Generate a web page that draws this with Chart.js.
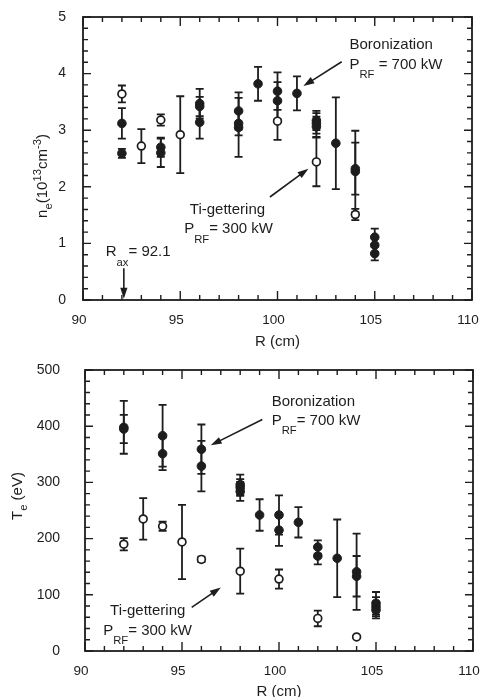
<!DOCTYPE html>
<html>
<head>
<meta charset="utf-8">
<script src="https://cdn.jsdelivr.net/npm/chart.js@4.4.1/dist/chart.umd.min.js"></script>
<style>
  html, body { margin: 0; padding: 0; background: #fff; }
  #wrap { position: relative; width: 480px; height: 697px; overflow: hidden; background: #fff; }
  .panel { position: absolute; left: 0; width: 480px; }
</style>
</head>
<body>
<div id="wrap">
  <div class="panel" style="top:0;height:350px"><canvas id="densityChart" width="480" height="350"></canvas></div>
  <div class="panel" style="top:350px;height:347px"><canvas id="tempChart" width="480" height="347"></canvas></div>
</div>
<script>
// ---- data ----
// n_e (10^13 cm^-3), boronization (filled)
const neBoroR   = [92, 92, 94, 94, 96, 96, 96, 98, 98, 98, 99, 100, 100, 101, 102, 102, 102, 103, 104, 104, 105, 105, 105];
const neBoro    = [3.12, 2.59, 2.70, 2.60, 3.47, 3.42, 3.14, 3.34, 3.12, 3.05, 3.82, 3.69, 3.52, 3.65, 3.17, 3.12, 3.06, 2.77, 2.32, 2.27, 1.11, 0.97, 0.82];
const neBoroErr = [0.27, 0.08, 0.17, 0.25, 0.26, 0.17, 0.29, 0.33, 0.21, 0.52, 0.30, 0.33, 0.33, 0.30, 0.17, 0.18, 0.18, 0.81, 0.46, 0.72, 0.15, 0.15, 0.12];
// n_e, Ti-gettering (open)
const neTiR   = [92, 93, 94, 95, 100, 102, 104];
const neTi    = [3.64, 2.72, 3.18, 2.92, 3.16, 2.44, 1.51];
const neTiErr = [0.15, 0.30, 0.10, 0.68, 0.33, 0.43, 0.10];

// T_e (eV), boronization (filled)
const teBoroR   = [92, 92, 94, 94, 96, 96, 98, 98, 98, 99, 100, 100, 101, 102, 102, 103, 104, 104, 105, 105, 105];
const teBoro    = [398, 395, 383, 351, 359, 329, 296, 291, 284, 242, 242, 215, 229, 185, 169, 165, 141, 133, 85, 79, 73];
const teBoroErr = [47, 25, 55, 29, 44, 45, 18, 15, 17, 28, 35, 28, 27, 12, 15, 69, 68, 36, 20, 17, 15];
// T_e, Ti-gettering (open)
const teTiR   = [92, 93, 94, 95, 96, 98, 100, 102, 104];
const teTi    = [190, 235, 222, 194, 163, 142, 128, 58, 25];
const teTiErr = [11, 37, 8, 66, 5, 40, 17, 14, 0];

// tick labels
const rTicks  = [90, 95, 100, 105, 110];
const neTicks = [0, 1, 2, 3, 4, 5];
const teTicks = [0, 100, 200, 300, 400, 500];

const ink = '#1d1d1d';
const family = '"Liberation Sans", Arial, Helvetica, sans-serif';

function toPoints(xs, ys) {
  return xs.map((x, i) => ({x: x, y: ys[i]}));
}

// text with sub/superscripts, parts: [{t, sub, sup}]
function richWidth(ctx, parts, size) {
  let w = 0;
  parts.forEach(p => {
    ctx.font = ((p.sub || p.sup) ? size * 0.75 : size) + 'px ' + family;
    w += ctx.measureText(p.t).width;
  });
  return w;
}

function drawRich(ctx, x, y, parts, size, subShift) {
  let cx = x;
  ctx.textBaseline = 'alphabetic';
  ctx.textAlign = 'left';
  parts.forEach(p => {
    const fs = (p.sub || p.sup) ? size * 0.75 : size;
    ctx.font = fs + 'px ' + family;
    let dy = 0;
    if (p.sub) dy = size * subShift;
    if (p.sup) dy = -size * 0.42;
    ctx.fillText(p.t, cx, y + dy);
    cx += ctx.measureText(p.t).width;
  });
}

function drawArrow(ctx, x1, y1, x2, y2) {
  const ang = Math.atan2(y2 - y1, x2 - x1);
  const len = 11, half = 3.6;
  ctx.beginPath();
  ctx.moveTo(x1, y1);
  ctx.lineTo(x2 - Math.cos(ang) * len * 0.8, y2 - Math.sin(ang) * len * 0.8);
  ctx.stroke();
  ctx.beginPath();
  ctx.moveTo(x2, y2);
  ctx.lineTo(x2 - Math.cos(ang) * len - Math.sin(ang) * half, y2 - Math.sin(ang) * len + Math.cos(ang) * half);
  ctx.lineTo(x2 - Math.cos(ang) * len + Math.sin(ang) * half, y2 - Math.sin(ang) * len - Math.cos(ang) * half);
  ctx.closePath();
  ctx.fill();
}

// error bars, frame, inward ticks and annotations
const figurePlugin = {
  id: 'figure',
  beforeDatasetsDraw(chart) {
    const {ctx, scales: {x, y}} = chart;
    ctx.save();
    ctx.strokeStyle = ink;
    ctx.lineWidth = 1.8;
    chart.data.datasets.forEach(ds => {
      ds.data.forEach((pt, i) => {
        const e = ds.errors[i];
        if (!e) return;
        const px = x.getPixelForValue(pt.x);
        const top = y.getPixelForValue(pt.y + e);
        const bot = y.getPixelForValue(pt.y - e);
        ctx.beginPath();
        ctx.moveTo(px, top); ctx.lineTo(px, bot);
        ctx.moveTo(px - 4, top); ctx.lineTo(px + 4, top);
        ctx.moveTo(px - 4, bot); ctx.lineTo(px + 4, bot);
        ctx.stroke();
      });
    });
    ctx.restore();
  },
  afterDraw(chart, args, opts) {
    const {ctx, chartArea: a, scales: {x, y}} = chart;
    ctx.save();
    ctx.strokeStyle = ink;
    ctx.fillStyle = ink;
    ctx.lineWidth = 1.8;
    ctx.strokeRect(a.left, a.top, a.right - a.left, a.bottom - a.top);

    // x ticks, top and bottom
    ctx.lineWidth = 1.4;
    ctx.beginPath();
    for (let v = x.min; v <= x.max + 1e-9; v += opts.xMinor) {
      const px = x.getPixelForValue(v);
      const major = Math.abs(v / opts.xMajor - Math.round(v / opts.xMajor)) < 1e-6;
      const len = major ? 9 : 5;
      ctx.moveTo(px, a.bottom); ctx.lineTo(px, a.bottom - len);
      ctx.moveTo(px, a.top); ctx.lineTo(px, a.top + len);
    }
    for (let v = y.min; v <= y.max + 1e-9; v += opts.yMinor) {
      const py = y.getPixelForValue(v);
      const major = Math.abs(v / opts.yMajor - Math.round(v / opts.yMajor)) < 1e-6;
      const len = major ? 8 : 5;
      ctx.moveTo(a.left, py); ctx.lineTo(a.left + len, py);
      ctx.moveTo(a.right, py); ctx.lineTo(a.right - len, py);
    }
    ctx.stroke();

    // axis titles
    ctx.font = '15px ' + family;
    ctx.textAlign = 'center';
    ctx.textBaseline = 'middle';
    ctx.fillText('R (cm)', (a.left + a.right) / 2, opts.xTitleY);

    const w = richWidth(ctx, opts.yTitle, 15);
    ctx.save();
    ctx.translate(opts.yTitleX, opts.yTitleY);
    ctx.rotate(-Math.PI / 2);
    drawRich(ctx, -w / 2, 0, opts.yTitle, 15, 0.3);
    ctx.restore();

    // annotations (placed in data coordinates)
    opts.labels.forEach(l => {
      drawRich(ctx, x.getPixelForValue(l.r), y.getPixelForValue(l.v), l.parts, 15, 0.62);
    });
    ctx.lineWidth = 1.6;
    opts.arrows.forEach(ar => {
      drawArrow(ctx, x.getPixelForValue(ar[0]), y.getPixelForValue(ar[1]),
                x.getPixelForValue(ar[2]), y.getPixelForValue(ar[3]));
    });
    ctx.restore();
  }
};

function buildPanel(canvasId, cfg) {
  const ctx = document.getElementById(canvasId).getContext('2d');
  return new Chart(ctx, {
    type: 'scatter',
    data: {
      datasets: [{
        data: toPoints(cfg.boroR, cfg.boro),
        errors: cfg.boroErr,
        pointRadius: 4.3,
        pointBackgroundColor: ink,
        pointBorderColor: ink,
        pointBorderWidth: 1
      }, {
        data: toPoints(cfg.tiR, cfg.ti),
        errors: cfg.tiErr,
        pointRadius: 3.9,
        pointBackgroundColor: '#fff',
        pointBorderColor: ink,
        pointBorderWidth: 1.7
      }]
    },
    options: {
      responsive: false,
      animation: false,
      devicePixelRatio: 1,
      layout: {padding: cfg.padding},
      plugins: {
        legend: {display: false},
        tooltip: {enabled: false},
        figure: cfg.figure
      },
      scales: {
        x: {
          type: 'linear', min: 90, max: 110,
          grid: {display: false, drawTicks: false},
          border: {display: false},
          ticks: {color: ink, font: {size: 13.5, family: family}, padding: cfg.xPad, labelOffset: -4, maxRotation: 0, autoSkip: false},
          afterBuildTicks: s => { s.ticks = rTicks.map(v => ({value: v})); },
          afterFit: s => { s.height = cfg.xHeight; s.paddingLeft = 0; s.paddingRight = 0; }
        },
        y: {
          type: 'linear', min: cfg.yTicks[0], max: cfg.yTicks[cfg.yTicks.length - 1],
          grid: {display: false, drawTicks: false},
          border: {display: false},
          ticks: {color: ink, font: {size: 14, family: family}, padding: cfg.yPad},
          afterBuildTicks: s => { s.ticks = cfg.yTicks.map(v => ({value: v})); },
          afterFit: s => { s.width = cfg.yWidth; s.paddingTop = 0; s.paddingBottom = 0; }
        }
      }
    },
    plugins: [figurePlugin]
  });
}

buildPanel('densityChart', {
  boroR: neBoroR, boro: neBoro, boroErr: neBoroErr,
  tiR: neTiR, ti: neTi, tiErr: neTiErr,
  yTicks: neTicks,
  padding: {top: 17, right: 8, left: 0, bottom: 0},
  xHeight: 50, yWidth: 83, xPad: 12, yPad: 17,
  figure: {
    xMinor: 1, xMajor: 5, yMinor: 0.2, yMajor: 1,
    xTitleY: 342, yTitleX: 47, yTitleY: 176,
    yTitle: [{t: 'n'}, {t: 'e', sub: true}, {t: '(10'}, {t: '13', sup: true}, {t: 'cm'}, {t: '-3', sup: true}, {t: ')'}],
    labels: [
      {r: 103.7, v: 4.43, parts: [{t: 'Boronization'}]},
      {r: 103.7, v: 4.09, parts: [{t: 'P'}, {t: 'RF', sub: true}, {t: ' = 700 kW'}]},
      {r: 95.49, v: 1.52, parts: [{t: 'Ti-gettering'}]},
      {r: 95.2, v: 1.18, parts: [{t: 'P'}, {t: 'RF', sub: true}, {t: '= 300 kW'}]},
      {r: 91.17, v: 0.77, parts: [{t: 'R'}, {t: 'ax', sub: true}, {t: '= 92.1'}]}
    ],
    arrows: [
      [103.3, 4.21, 101.33, 3.78],
      [99.61, 1.82, 101.59, 2.32],
      [92.1, 0.56, 92.1, 0.02]
    ]
  }
});

buildPanel('tempChart', {
  boroR: teBoroR, boro: teBoro, boroErr: teBoroErr,
  tiR: teTiR, ti: teTi, tiErr: teTiErr,
  yTicks: teTicks,
  padding: {top: 20, right: 7, left: 0, bottom: 0},
  xHeight: 46, yWidth: 85, xPad: 12, yPad: 25,
  figure: {
    xMinor: 1, xMajor: 5, yMinor: 20, yMajor: 100,
    xTitleY: 342, yTitleX: 22, yTitleY: 146,
    yTitle: [{t: 'T'}, {t: 'e', sub: true}, {t: ' (eV)'}],
    labels: [
      {r: 99.62, v: 435.6, parts: [{t: 'Boronization'}]},
      {r: 99.62, v: 401.8, parts: [{t: 'P'}, {t: 'RF', sub: true}, {t: '= 700 kW'}]},
      {r: 91.29, v: 64, parts: [{t: 'Ti-gettering'}]},
      {r: 90.94, v: 28.4, parts: [{t: 'P'}, {t: 'RF', sub: true}, {t: '= 300 kW'}]}
    ],
    arrows: [
      [99.14, 412, 96.48, 366],
      [95.5, 77.7, 97.0, 113]
    ]
  }
});
</script>
</body>
</html>
